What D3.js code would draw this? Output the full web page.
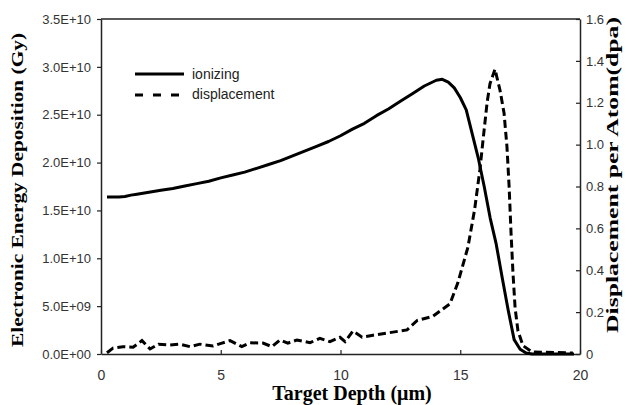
<!DOCTYPE html>
<html>
<head>
<meta charset="utf-8">
<script src="https://cdn.jsdelivr.net/npm/d3@7"></script>
<style>
  html, body { margin: 0; padding: 0; background: #fff; }
  svg { display: block; }
</style>
</head>
<body>
<svg id="chart" width="633" height="405"></svg>
<script>
// ---- Data ----
const ionDepth = [0.25, 0.75, 1.0, 1.25, 1.5, 2.0, 2.5, 3.0, 3.5, 4.0, 4.5, 5.0, 5.5, 6.0, 6.5, 7.0, 7.5, 8.0, 8.5, 9.0, 9.5, 10.0, 10.5, 11.0, 11.5, 12.0, 12.5, 13.0, 13.5, 14.0, 14.25, 14.5, 14.75, 15.0, 15.25, 15.5, 15.75, 16.0, 16.25, 16.5, 16.75, 17.0, 17.25, 17.5, 17.75, 18.0, 19.75];
const ionValue = [1.64e10, 1.64e10, 1.645e10, 1.66e10, 1.67e10, 1.69e10, 1.71e10, 1.73e10, 1.755e10, 1.78e10, 1.805e10, 1.84e10, 1.87e10, 1.90e10, 1.94e10, 1.98e10, 2.02e10, 2.07e10, 2.12e10, 2.17e10, 2.22e10, 2.28e10, 2.35e10, 2.41e10, 2.49e10, 2.56e10, 2.64e10, 2.72e10, 2.80e10, 2.86e10, 2.87e10, 2.84e10, 2.78e10, 2.68e10, 2.55e10, 2.30e10, 2.05e10, 1.75e10, 1.42e10, 1.15e10, 0.80e10, 0.46e10, 0.15e10, 0.05e10, 0.01e10, 0.0, 0.0];

const dispDepth = [0.25, 0.5, 0.92, 1.34, 1.71, 2.05, 2.4, 2.88, 3.3, 3.72, 4.13, 4.68, 5.05, 5.39, 5.88, 6.22, 6.76, 7.14, 7.47, 7.8, 8.18, 8.73, 9.14, 9.56, 9.98, 10.19, 10.52, 10.9, 11.36, 11.94, 12.78, 13.2, 13.86, 14.57, 14.9, 15.32, 15.6, 15.82, 15.95, 16.12, 16.24, 16.45, 16.66, 16.83, 16.95, 17.04, 17.12, 17.2, 17.29, 17.41, 17.62, 18.0, 19.7];
const dispValue = [0.006, 0.028, 0.035, 0.032, 0.064, 0.024, 0.047, 0.043, 0.047, 0.035, 0.047, 0.038, 0.052, 0.064, 0.035, 0.054, 0.052, 0.035, 0.067, 0.052, 0.067, 0.054, 0.075, 0.059, 0.08, 0.059, 0.11, 0.08, 0.09, 0.10, 0.115, 0.16, 0.18, 0.24, 0.34, 0.51, 0.69, 0.88, 1.02, 1.2, 1.29, 1.36, 1.26, 1.15, 0.99, 0.80, 0.58, 0.39, 0.22, 0.11, 0.04, 0.01, 0.005];

const xTicks = [0, 5, 10, 15, 20];
const leftTicks = [0, 5e9, 1e10, 1.5e10, 2e10, 2.5e10, 3e10, 3.5e10];
const rightTicks = [0, 0.2, 0.4, 0.6, 0.8, 1.0, 1.2, 1.4, 1.6];
const seriesNames = ["ionizing", "displacement"];
const xTitle = "Target Depth (\u03bcm)";
const leftTitle = "Electronic Energy Deposition (Gy)";
const rightTitle = "Displacement per Atom(dpa)";

// ---- Layout ----
const L = 101, R = 580, T = 19, B = 354;
const svg = d3.select("#chart");
const ink = "#222";

const x = d3.scaleLinear().domain([0, 20]).range([L, R]);
const yL = d3.scaleLinear().domain([0, 3.5e10]).range([B, T]);
const yR = d3.scaleLinear().domain([0, 1.6]).range([B, T]);

function sciFmt(v) {
  if (v === 0) return "0.0E+00";
  const e = Math.floor(Math.log10(v));
  const m = v / Math.pow(10, e);
  return m.toFixed(1) + "E+" + String(e).padStart(2, "0");
}

const tickFont = "'Liberation Sans', Arial, sans-serif";
const titleFont = "'Liberation Serif', 'Times New Roman', serif";

// Left axis (ticks outward)
const gL = svg.append("g").attr("transform", `translate(${L},0)`)
  .call(d3.axisLeft(yL).tickValues(leftTicks).tickFormat(sciFmt).tickSizeInner(4).tickSizeOuter(0).tickPadding(6));
// Right axis (ticks inward)
const gR = svg.append("g").attr("transform", `translate(${R},0)`)
  .call(d3.axisRight(yR).tickValues(rightTicks).tickFormat(d => d === 0 ? "0" : d3.format(".1f")(d)).tickSizeInner(-4).tickSizeOuter(0).tickPadding(6));
// Bottom axis (ticks inward)
const gB = svg.append("g").attr("transform", `translate(0,${B})`)
  .call(d3.axisBottom(x).tickValues(xTicks).tickFormat(d3.format("d")).tickSizeInner(-4).tickSizeOuter(0).tickPadding(16));

[gL, gR, gB].forEach(g => {
  g.selectAll("path.domain").attr("stroke", ink).attr("stroke-width", 1.5);
  g.selectAll(".tick line").attr("stroke", ink).attr("stroke-width", 1.2);
  g.selectAll(".tick text").attr("fill", "#333").attr("font-family", tickFont).attr("font-size", 13);
});
gB.selectAll(".tick text").attr("font-size", 14);

// Top frame line
svg.append("line").attr("x1", L).attr("x2", R).attr("y1", T).attr("y2", T)
  .attr("stroke", ink).attr("stroke-width", 1.5);

// Lines
const ionData = ionDepth.map((d, i) => [d, ionValue[i]]);
const dispData = dispDepth.map((d, i) => [d, dispValue[i]]);

svg.append("path").datum(ionData)
  .attr("d", d3.line().x(d => x(d[0])).y(d => yL(d[1])))
  .attr("fill", "none").attr("stroke", "#000").attr("stroke-width", 3).attr("stroke-linejoin", "round");

svg.append("path").datum(dispData)
  .attr("d", d3.line().x(d => x(d[0])).y(d => yR(d[1])))
  .attr("fill", "none").attr("stroke", "#000").attr("stroke-width", 3).attr("stroke-dasharray", "8,4");

// Legend
const lg = svg.append("g");
lg.append("line").attr("x1", 135).attr("x2", 184).attr("y1", 74).attr("y2", 74)
  .attr("stroke", "#000").attr("stroke-width", 3);
lg.append("line").attr("x1", 135).attr("x2", 184).attr("y1", 95).attr("y2", 95)
  .attr("stroke", "#000").attr("stroke-width", 3).attr("stroke-dasharray", "8,10");
lg.append("text").attr("x", 192).attr("y", 79).text(seriesNames[0])
  .attr("font-family", tickFont).attr("font-size", 14).attr("fill", "#222");
lg.append("text").attr("x", 192).attr("y", 99).text(seriesNames[1])
  .attr("font-family", tickFont).attr("font-size", 14).attr("fill", "#222");

// Titles
svg.append("text").attr("x", 352).attr("y", 400).attr("text-anchor", "middle")
  .attr("font-family", titleFont).attr("font-weight", "bold").attr("font-size", 20).text(xTitle);
svg.append("text").attr("transform", "translate(23,190) rotate(-90)").attr("text-anchor", "middle")
  .attr("font-family", titleFont).attr("font-weight", "bold").attr("font-size", 17)
  .attr("textLength", 314).attr("lengthAdjust", "spacingAndGlyphs").text(leftTitle);
svg.append("text").attr("transform", "translate(618,175) rotate(-90)").attr("text-anchor", "middle")
  .attr("font-family", titleFont).attr("font-weight", "bold").attr("font-size", 17)
  .attr("textLength", 316).attr("lengthAdjust", "spacingAndGlyphs").text(rightTitle);
</script>
</body>
</html>
